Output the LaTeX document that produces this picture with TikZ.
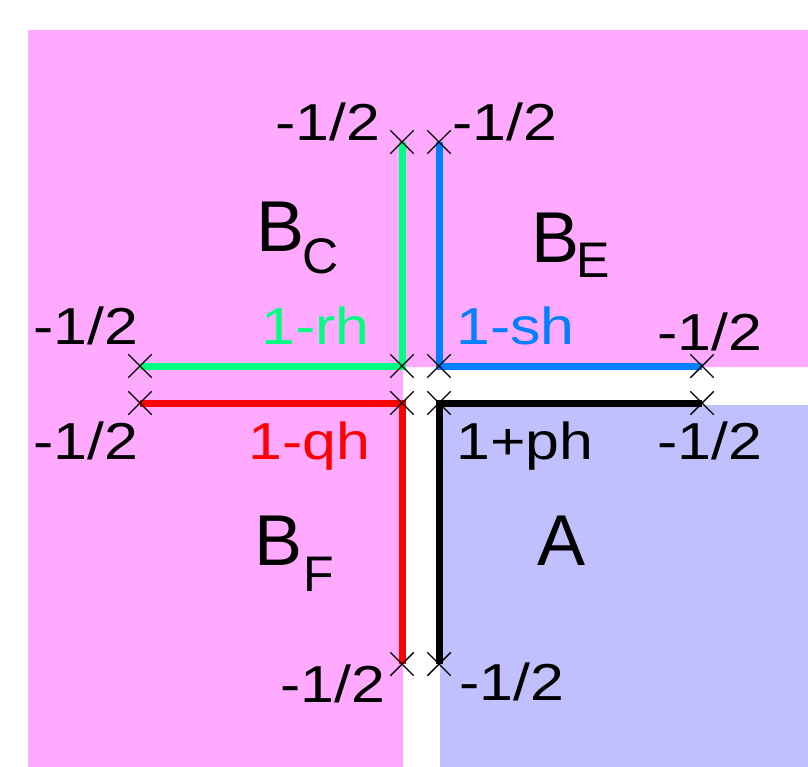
\documentclass[tikz,border=0pt]{standalone}
\usepackage{fontspec}
\setmainfont{Liberation Sans}
\newfontfamily\labfont[FakeStretch=1.17]{Liberation Sans}
\usetikzlibrary{shapes.misc}
\definecolor{pinkbg}{RGB}{255,170,255}
\definecolor{bluebg}{RGB}{192,192,255}
\definecolor{lgreen}{RGB}{0,255,128}
\definecolor{lblue}{RGB}{0,128,255}
\begin{document}
\begin{tikzpicture}[x=1pt,y=-1pt,
  xm/.style={cross out,draw=black,line width=1.4pt,minimum size=22pt,inner sep=0pt},
  seg/.style={line width=7pt,line join=miter,line cap=butt},
  lab/.style={font=\labfont\fontsize{52}{60}\selectfont,inner sep=0pt,anchor=base west},
  big/.style={font=\fontsize{72}{80}\selectfont,inner sep=0pt,anchor=base west},
  sub/.style={font=\fontsize{50}{60}\selectfont,inner sep=0pt,anchor=base west}]
\useasboundingbox (0,0) rectangle (808,767);
% background regions
\fill[pinkbg] (28,30) -- (808,30) -- (808,367) -- (403,367) -- (403,767) -- (28,767) -- cycle;
\fill[bluebg] (440,405) rectangle (808,767);
% end points
\coordinate (gT) at (402,142);
\coordinate (gC) at (402,366);
\coordinate (gL) at (140,366);
\coordinate (bT) at (439,142);
\coordinate (bC) at (439,366);
\coordinate (bR) at (702,366);
\coordinate (rL) at (140,403);
\coordinate (rC) at (402,403);
\coordinate (rB) at (402,664);
\coordinate (kR) at (702,403);
\coordinate (kC) at (439,403);
\coordinate (kB) at (439,664);
% segments
\draw[seg,lgreen] (gL) -- (gC) -- (gT);
\draw[seg,lblue] (bR) -- (bC) -- (bT);
\draw[seg,red] (rL) -- (rC) -- (rB);
\draw[seg,black] (kR) -- (kC) -- (kB);
% crosses
\foreach \p in {gT,gC,gL,bT,bC,bR,rL,rC,rB,kR,kC,kB}
  \node[xm] (x\p) at (\p) {};
% labels
\node[lab] (l1) at (275,141) {-1/2};
\node[lab] (l2) at (452,141) {-1/2};
\node[lab] (l3) at (33,344) {-1/2};
\node[lab,text=lgreen] (l4) at (261,344) {1-rh};
\node[lab,text=lblue] (l5) at (456,344) {1-sh};
\node[lab] (l6) at (657,350) {-1/2};
\node[lab] (l7) at (33,459) {-1/2};
\node[lab,text=red] (l8) at (248,459) {1-qh};
\node[lab] (l9) at (456,459) {1+ph};
\node[lab] (l10) at (657,459) {-1/2};
\node[lab] (l11) at (280,702) {-1/2};
\node[lab] (l12) at (459,700) {-1/2};
% region names
\node[big] (BC) at (256,252) {B};
\node[sub] (BCs) at (302,273) {C};
\node[big] (BE) at (531,262) {B};
\node[sub] (BEs) at (576,277) {E};
\node[big] (BF) at (254,565) {B};
\node[sub] (BFs) at (303,591) {F};
\node[big] (AA) at (537,565) {A};
\end{tikzpicture}
\end{document}
